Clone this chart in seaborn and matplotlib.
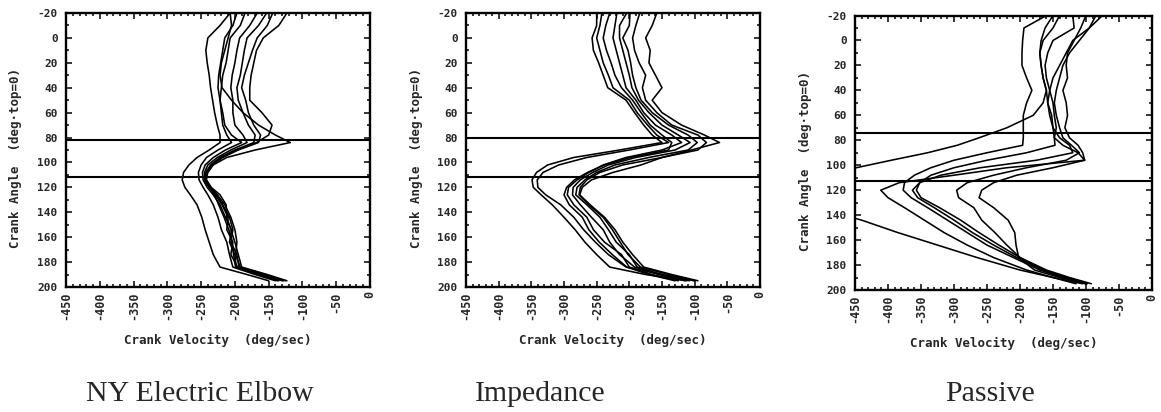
import numpy as np
import pandas as pd
import matplotlib
matplotlib.use("Agg")
import matplotlib.pyplot as plt
from matplotlib.ticker import MultipleLocator
import seaborn as sns

sns.set_style("ticks")
plt.rcParams["font.family"] = ["DejaVu Sans Mono", "DejaVu Sans"]

# Crank angle samples (deg, top = 0) shared by every trace
angles = [-20, -10, 0, 10, 20, 30, 40, 50, 60, 70, 78, 84, 90, 96,
          102, 108, 114, 120, 126, 134, 144, 154, 164, 174, 184, 190, 195]

# Crank velocity (deg/sec) of each revolution, one list per trace
elbow_traces = [
    [-207, -222, -240, -243, -241, -238, -236, -233, -230, -226, -222, -222, -238, -256,
     -268, -276, -278, -274, -266, -256, -249, -244, -238, -232, -222, -182, -150],
    [-197, -203, -215, -218, -221, -224, -225, -222, -220, -218, -212, -205, -225, -242,
     -250, -254, -253, -247, -240, -232, -225, -220, -212, -208, -203, -170, -140],
    [-185, -192, -207, -210, -213, -218, -220, -222, -218, -215, -205, -190, -214, -232,
     -244, -248, -247, -241, -232, -222, -214, -205, -208, -200, -198, -165, -135],
    [-167, -178, -193, -197, -200, -204, -206, -203, -203, -200, -188, -182, -206, -226,
     -240, -245, -245, -238, -229, -219, -210, -212, -203, -206, -196, -160, -128],
    [-153, -165, -182, -186, -189, -192, -197, -195, -188, -180, -170, -172, -200, -222,
     -236, -243, -244, -236, -226, -215, -206, -200, -197, -199, -192, -156, -125],
    [-144, -152, -167, -174, -180, -186, -190, -184, -180, -172, -162, -165, -195, -218,
     -233, -241, -242, -235, -222, -213, -212, -206, -200, -195, -190, -152, -123],
    [-207, -205, -210, -215, -220, -222, -219, -205, -188, -165, -140, -118, -170, -212,
     -232, -240, -243, -237, -230, -224, -216, -209, -204, -202, -199, -162, -137],
    [-123, -135, -158, -168, -172, -176, -178, -178, -160, -145, -150, -168, -198, -220,
     -234, -242, -244, -238, -227, -218, -208, -203, -206, -197, -194, -158, -130],
]

impedance_traces = [
    [-250, -250, -257, -255, -247, -240, -233, -205, -192, -178, -165, -150, -215, -285,
     -325, -342, -349, -347, -335, -318, -300, -283, -268, -250, -230, -175, -112],
    [-242, -245, -250, -245, -240, -232, -225, -200, -188, -172, -158, -140, -200, -265,
     -308, -332, -341, -340, -328, -305, -285, -270, -252, -232, -205, -150, -100],
    [-219, -222, -225, -220, -215, -210, -205, -190, -178, -160, -135, -120, -150, -205,
     -240, -262, -280, -293, -295, -285, -265, -255, -238, -212, -200, -165, -125],
    [-204, -215, -215, -210, -205, -200, -196, -186, -170, -150, -125, -107, -130, -190,
     -232, -256, -275, -286, -287, -275, -258, -240, -230, -215, -192, -155, -115],
    [-199, -200, -210, -202, -198, -195, -190, -182, -165, -140, -110, -96, -110, -170,
     -222, -250, -268, -280, -282, -265, -245, -232, -220, -200, -188, -150, -108],
    [-184, -190, -195, -192, -185, -175, -180, -175, -158, -135, -95, -82, -95, -150,
     -210, -245, -265, -275, -277, -262, -240, -226, -214, -202, -183, -140, -100],
    [-158, -165, -175, -168, -170, -160, -150, -165, -150, -120, -85, -62, -105, -150,
     -182, -225, -258, -272, -276, -260, -238, -222, -210, -195, -178, -135, -95],
    [-230, -236, -240, -235, -228, -222, -212, -195, -182, -168, -150, -135, -140, -198,
     -238, -264, -284, -296, -300, -292, -272, -262, -246, -226, -204, -170, -130],
]

passive_traces = [
    [-150, -162, -168, -170, -168, -165, -160, -165, -180, -220, -262, -295, -340, -395,
     -448, -500, -540, -555, -545, -510, -440, -385, -325, -265, -200, -150, -105],
    [-85, -95, -120, -130, -140, -150, -155, -158, -152, -150, -148, -135, -112, -102,
     -220, -300, -383, -411, -400, -375, -345, -315, -280, -240, -190, -150, -115],
    [-160, -194, -196, -197, -197, -190, -182, -190, -195, -195, -195, -196, -250, -300,
     -335, -360, -375, -377, -365, -340, -310, -280, -250, -210, -170, -135, -100],
    [-140, -150, -165, -170, -168, -165, -160, -158, -155, -150, -140, -125, -120, -175,
     -260, -320, -352, -363, -355, -330, -300, -272, -240, -205, -165, -130, -98],
    [-120, -118, -150, -158, -162, -160, -155, -150, -148, -145, -148, -147, -190, -250,
     -300, -335, -352, -357, -350, -322, -290, -262, -232, -200, -160, -125, -92],
    [-75, -95, -110, -125, -135, -140, -145, -148, -145, -140, -135, -122, -110, -130,
     -190, -240, -280, -296, -293, -270, -258, -238, -220, -200, -165, -130, -100],
    [-100, -108, -118, -128, -130, -128, -135, -130, -128, -132, -125, -112, -105, -102,
     -150, -205, -240, -258, -262, -240, -218, -208, -206, -202, -178, -140, -100],
]

panel_titles = ["NY Electric Elbow", "Impedance", "Passive"]
panel_traces = [elbow_traces, impedance_traces, passive_traces]
# Crank angles of the two reference lines in each panel
reference_angles = [[82, 112], [80.5, 111.5], [74, 113]]

x_ticks = [-450, -400, -350, -300, -250, -200, -150, -100, -50, 0]
y_ticks = [-20, 0, 20, 40, 60, 80, 100, 120, 140, 160, 180, 200]

W, H = 1161, 412
fig = plt.figure(figsize=(W / 100, H / 100), dpi=100)
fig.patch.set_facecolor("white")

# axes boxes in pixels: left, top, right, bottom
boxes = [(66, 13, 370, 287), (466, 13, 760, 287), (855, 15.5, 1152, 290)]
title_x = [200, 540, 990]


def to_frame(traces):
    rows = []
    for i, tr in enumerate(traces):
        for a, v in zip(angles, tr):
            rows.append({"trace": i, "angle": a, "velocity": v})
    return pd.DataFrame(rows)


for k in range(3):
    l, t, r, b = boxes[k]
    ax = fig.add_axes([l / W, 1 - b / H, (r - l) / W, (b - t) / H])
    df = to_frame(panel_traces[k])
    sns.lineplot(data=df, x="velocity", y="angle", units="trace",
                 estimator=None, sort=False, color="black", linewidth=1.15,
                 legend=False, ax=ax)
    for ya in reference_angles[k]:
        ax.axhline(ya, color="black", linewidth=1.5)

    ax.set_xlim(-450, 0)
    ax.set_ylim(200, -20)
    ax.set_xticks(x_ticks)
    ax.set_yticks(y_ticks)
    ax.xaxis.set_minor_locator(MultipleLocator(10))
    ax.yaxis.set_minor_locator(MultipleLocator(10))
    ax.set_xticklabels([str(v) for v in x_ticks], rotation=90,
                       fontsize=8.5, fontweight="bold")
    ax.set_yticklabels([str(v) for v in y_ticks], fontsize=8, fontweight="bold")
    ax.tick_params(which="both", direction="in", top=True, right=True,
                   width=1.1, color="black")
    ax.tick_params(which="major", length=4)
    ax.tick_params(which="minor", length=2.2)
    ax.tick_params(axis="x", pad=3)
    ax.tick_params(axis="y", pad=6)
    for sp in ax.spines.values():
        sp.set_linewidth(1.7)
        sp.set_color("black")

    ax.set_xlabel("Crank Velocity  (deg/sec)", fontsize=9, fontweight="bold")
    ax.set_ylabel("Crank Angle  (deg\u00b7top=0)", fontsize=9, fontweight="bold")
    ax.xaxis.set_label_coords(0.5, -0.172)
    ax.xaxis.label.set_va("top")
    ax.yaxis.set_label_coords(-0.145, 0.47)

    fig.text(title_x[k] / W, 1 - 401 / H, panel_titles[k],
             family="Liberation Serif", fontsize=21.5, ha="center", va="baseline")

fig.savefig("out.png", dpi=100, facecolor="white")
